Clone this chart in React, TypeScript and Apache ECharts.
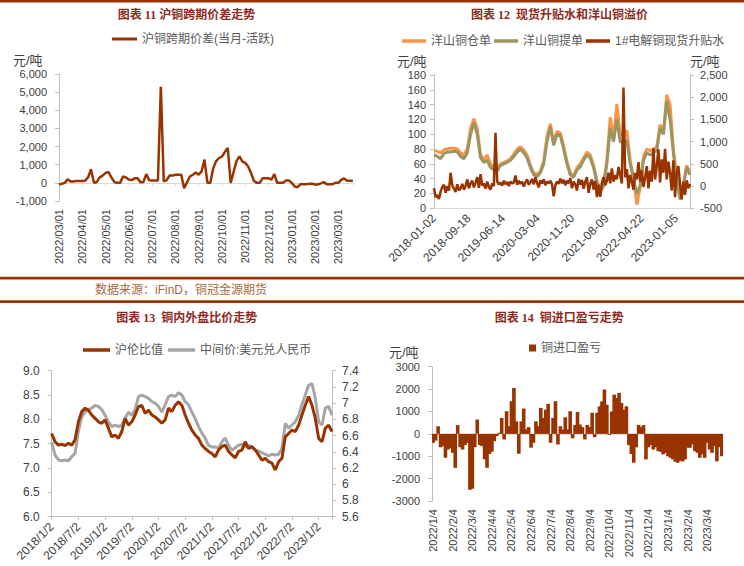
import React, { useEffect, useRef } from 'react';
import * as echarts from 'echarts';

// ---------- Panel 1: 沪铜跨期价差 ----------
const p1Labels = ['2022/03/01', '2022/04/01', '2022/05/01', '2022/06/01', '2022/07/01', '2022/08/01', '2022/09/01', '2022/10/01', '2022/11/01', '2022/12/01', '2023/01/01', '2023/02/01', '2023/03/01'];
const p1Spread = [
  -100, -50, 0, 200, 80, 80, 100, 100, 100, 120,
  300, 750, 0, 50, 300, 400, 550, 600, 300, 50,
  0, 0, 350, 300, 180, 150, 250, 250, 30, 50,
  480, 150, 130, 130, 130, 5300, 80, 150, 400, 400,
  450, 450, 450, -300, 30, 350, 450, 570, 450, 630,
  1280, 0, 0, 800, 1200, 1370, 1450, 1700, 1930, 0,
  600, 1200, 1460, 1180, 1100, 900, 540, 100, 0, 0,
  260, 250, 260, 170, 480, 0, 0, 0, 130, 130,
  0, -200, -240, -70, -70, -70, -50, -50, -90, -90,
  -30, 40, -70, -70, -70, 0, 0, 170, 250, 110,
  110, 110,
];

// ---------- Panel 2: 现货升贴水和洋山铜溢价 ----------
const p2Labels = ['2018-01-02', '2018-09-18', '2019-06-14', '2020-03-04', '2020-11-20', '2021-08-09', '2022-04-22', '2023-01-05'];
const p2Warrant = [
  78, 77, 75, 79, 80, 81, 81, 80, 75, 72,
  80, 108, 121, 108, 72, 66, 72, 60, 55, 53,
  60, 62, 64, 67, 73, 80, 83, 79, 72, 58,
  48, 46, 50, 64, 98, 114, 90, 104, 102, 84,
  63, 48, 44, 55, 60, 68, 76, 72, 58, 38,
  24, 33, 65, 123, 95, 141, 100, 100, 105, 65,
  42, 5, 28, 70, 80, 78, 80, 83, 113, 102,
  153, 140, 80, 42, 14, 32, 58, 48,
];
const p2Bill = [
  72, 70, 67, 74, 76, 76, 77, 76, 70, 67,
  75, 100, 116, 100, 68, 62, 65, 55, 52, 50,
  58, 60, 62, 65, 70, 76, 80, 75, 68, 55,
  45, 43, 48, 60, 90, 110, 85, 100, 98, 80,
  60, 45, 42, 52, 56, 65, 72, 68, 55, 35,
  22, 30, 60, 108, 90, 120, 90, 88, 92, 60,
  40, 20, 30, 65, 75, 72, 75, 78, 108, 100,
  145, 120, 75, 40, 12, 30, 55, 45,
];
const p2Premium = [
  -50, -250, -200, -290, -120, -20, 30, -150, 0, -100,
  300, 20, -60, -130, 40, -100, -50, 50, -80, 0,
  150, -50, 60, 120, -30, 80, 200, -40, 270, 10,
  60, -60, 100, -20, -80, 60, 0, 1200, 100, 40,
  80, 10, 120, 40, 90, 0, 100, 60, 80, 240,
  30, 120, 50, 100, -10, 80, 150, 30, 90, 160,
  40, 200, 70, -30, 130, 60, 150, 20, 100, 60,
  120, 40, -230, 20, 100, 50, 170, 60, 140, 20,
  120, 60, 180, -50, 100, 40, -100, 160, 30, 140,
  -60, 100, 200, -150, 50, 150, -80, 120, -250, 30,
  -240, 80, 200, 20, 120, 300, 60, 400, 100, 250,
  150, 430, 250, 60, 2220, 200, 380, -50, 250, 100,
  -80, 300, 150, 540, 100, 350, -20, 200, 450, -50,
  350, 100, 850, 150, 450, 830, 80, 600, 300, 840,
  150, 550, 300, -100, 580, -250, 300, 450, 50, -300,
  100, -200, 130, -50, 50,
];

// ---------- Panel 3: 铜内外盘比价 ----------
const p3Labels = ['2018/1/2', '2018/7/2', '2019/1/2', '2019/7/2', '2020/1/2', '2020/7/2', '2021/1/2', '2021/7/2', '2022/1/2', '2022/7/2', '2023/1/2'];
const p3Ratio = [
  7.71, 7.54, 7.47, 7.49, 7.46, 7.51, 7.47, 7.58, 7.95, 8.16,
  8.23, 8.19, 8.09, 8.02, 7.95, 7.92, 7.99, 7.82, 7.64, 7.68,
  7.61, 7.75, 8.02, 7.88, 7.95, 8.09, 8.26, 8.29, 8.12, 8.19,
  8.09, 8.05, 7.99, 7.92, 7.99, 8.23, 8.16, 8.29, 8.36, 8.29,
  8.09, 7.92, 7.78, 7.68, 7.61, 7.47, 7.40, 7.34, 7.30, 7.23,
  7.37, 7.44, 7.47, 7.34, 7.27, 7.21, 7.34, 7.37, 7.54, 7.40,
  7.44, 7.37, 7.27, 7.16, 7.20, 7.13, 7.10, 6.96, 7.13, 7.20,
  7.64, 7.71, 7.78, 7.75, 7.88, 8.09, 8.29, 8.47, 8.29, 8.02,
  7.61, 7.54, 7.82, 7.88, 7.75,
];
const p3Usd = [
  6.52, 6.36, 6.30, 6.29, 6.30, 6.29, 6.34, 6.38, 6.65, 6.83,
  6.89, 6.92, 6.94, 6.97, 6.96, 6.92, 6.85, 6.77, 6.71, 6.73,
  6.71, 6.73, 6.81, 6.89, 6.85, 6.92, 7.08, 7.10, 7.08, 7.06,
  7.02, 7.00, 6.96, 6.89, 6.98, 7.08, 7.10, 7.08, 7.13, 7.10,
  7.02, 6.98, 6.89, 6.81, 6.71, 6.63, 6.57, 6.48, 6.46, 6.46,
  6.45, 6.52, 6.57, 6.48, 6.42, 6.45, 6.48, 6.49, 6.46, 6.48,
  6.46, 6.42, 6.41, 6.39, 6.37, 6.35, 6.37, 6.36, 6.37, 6.44,
  6.75, 6.69, 6.73, 6.77, 6.85, 6.98, 7.10, 7.22, 7.24, 7.06,
  6.77, 6.73, 6.94, 6.96, 6.85,
];

// ---------- Panel 4: 铜进口盈亏 ----------
const p4Labels = ['2022/1/4', '2022/2/4', '2022/3/4', '2022/4/4', '2022/5/4', '2022/6/4', '2022/7/4', '2022/8/4', '2022/9/4', '2022/10/4', '2022/11/4', '2022/12/4', '2023/1/4', '2023/2/4', '2023/3/4'];
const p4Profit = [
  -400, -300, 340, -600, -550, -1070, -700, -650, -850, -1520,
  390, -600, -700, -500, -400, -2500, -2450, -600, 640, -500,
  -550, -1140, -1520, -900, -800, -330, -100, 50, 710, -250,
  1010, 340, 1460, 2050, 560, -890, 560, 1130, 200, 300,
  -620, -400, 560, 340, 1160, 710, 1080, 1340, -400, 710,
  1460, -475, 340, 190, 740, 200, 1010, -200, 400, 980,
  420, 300, -250, 400, 300, 940, -150, 940, 1230, 1450,
  1980, 1300, -50, 1000, 1750, 1600, 1830, 1380, 1080, 1230,
  -500, -900, -1290, -600, 400, 300, 390, -1140, -600, -500,
  -700, -600, -770, -800, -920, -850, -1000, -1070, -1140, -1250,
  -1290, -1200, -1230, -1140, -620, -620, -475, -770, -850, -1070,
  -920, -1070, -400, -700, -850, -550, -1230, -600, -1000,
];

// sampling steps (x units per sample)
const P1_STEP = 1 / 8; // months
const P2_STEP = 1332 / 77; // trading days
const P2P_STEP = 1332 / 154; // trading days (premium series, denser)
const P3_STEP = 0.75; // months
const P4_PER_MONTH = 8; // samples per month

const RED = '#993300';
const FONT = '"Liberation Sans", "Noto Sans CJK SC", sans-serif';
const TITLE_FONT = '"Liberation Serif", "Noto Sans CJK SC", serif';
const AXIS_GRAY = '#BFBFBF';
const LABEL = '#404040';

const tickFmt = (labels: string[], interval: number) => (v: number) => {
  const k = Math.round(v / interval);
  return Math.abs(v - k * interval) < 1e-6 && labels[k] ? labels[k] : '';
};
const thousands = (v: number) => Math.round(v).toLocaleString('en-US');

const title = (text: string, x: number, y: number) => ({
  type: 'text', x, y, silent: true,
  style: { text, fill: '#8E2A1E', font: `bold 12px ${TITLE_FONT}`, align: 'center', verticalAlign: 'middle' },
});
const unit = (x: number, y: number) => ({
  type: 'text', x, y, silent: true,
  style: { text: '元/吨', fill: LABEL, font: `13px ${FONT}`, align: 'left', verticalAlign: 'middle' },
});

const yAxisBase = (gridIndex: number, extra: any) => ({
  type: 'value', gridIndex,
  splitLine: { show: false },
  axisLine: { show: true, onZero: false, lineStyle: { color: AXIS_GRAY } },
  axisTick: { show: true, length: 4, lineStyle: { color: AXIS_GRAY } },
  ...extra,
  axisLabel: { color: LABEL, fontSize: 11, ...(extra.axisLabel || {}) },
});

export default function App() {
  const ref = useRef<HTMLDivElement>(null);
  useEffect(() => {
    if (!ref.current) return;
    const chart = echarts.init(ref.current, undefined, { renderer: 'svg' });
    const legendText = { fontSize: 12, color: '#595959' };
    const p4Categories = p4Profit.map((_, i) => String(i));
    const option: any = {
      animation: false,
      backgroundColor: '#ffffff',
      textStyle: { fontFamily: FONT },
      graphic: [
        { type: 'rect', shape: { x: 0, y: 0, width: 744, height: 2.5 }, style: { fill: RED }, silent: true },
        { type: 'rect', shape: { x: 0, y: 276.8, width: 744, height: 2.6 }, style: { fill: RED }, silent: true },
        { type: 'rect', shape: { x: 0, y: 300.3, width: 744, height: 2.8 }, style: { fill: RED }, silent: true },
        title('图表 11 沪铜跨期价差走势', 186.5, 15),
        title('图表 12  现货升贴水和洋山铜溢价', 559.5, 15),
        title('图表 13  铜内外盘比价走势', 186.7, 318),
        title('图表 14  铜进口盈亏走势', 559.3, 318),
        unit(13, 60),
        unit(397, 61),
        unit(690, 61),
        unit(389, 352),
        {
          type: 'text', x: 181, y: 290, silent: true,
          style: { text: '数据来源：iFinD，铜冠金源期货', fill: '#A86A3D', font: `12px ${FONT}`, align: 'center', verticalAlign: 'middle' },
        },
      ],
      legend: [
        { data: ['沪铜跨期价差(当月-活跃)'], left: 112, top: 33, padding: 0, icon: 'rect', itemWidth: 25, itemHeight: 3, selectedMode: false, textStyle: legendText },
        { data: ['洋山铜仓单', '洋山铜提单', '1#电解铜现货升贴水'], left: 402, top: 35, padding: 0, icon: 'rect', itemWidth: 24, itemHeight: 3.5, itemGap: 3, selectedMode: false, textStyle: legendText },
        { data: ['沪伦比值', '中间价:美元兑人民币'], left: 83, top: 344, padding: 0, icon: 'rect', itemWidth: 27, itemHeight: 3.5, itemGap: 5, selectedMode: false, textStyle: legendText },
        { data: ['铜进口盈亏'], left: 529, top: 342, padding: 0, icon: 'rect', itemWidth: 7, itemHeight: 7, selectedMode: false, textStyle: legendText },
      ],
      grid: [
        { left: 59, top: 74, width: 294, height: 127, outerBoundsMode: 'none' },
        { left: 434, top: 75, width: 256, height: 133.3, outerBoundsMode: 'none' },
        { left: 51.7, top: 370.7, width: 280.3, height: 146, outerBoundsMode: 'none' },
        { left: 432, top: 366.7, width: 291, height: 134.3, outerBoundsMode: 'none' },
      ],
      xAxis: [
        {
          type: 'value', gridIndex: 0, position: 'bottom', min: 0, max: 12.63, interval: 1,
          axisLine: { show: false, onZero: false }, axisTick: { show: false }, splitLine: { show: false },
          axisLabel: { rotate: 90, fontSize: 11, color: LABEL, margin: 8, formatter: tickFmt(p1Labels, 1) },
        },
        {
          type: 'value', gridIndex: 0, position: 'bottom', min: 0, max: 12.63, interval: 1,
          axisLine: { show: true, onZero: true, lineStyle: { color: '#D9D9D9' } },
          axisTick: { show: true, length: 3, lineStyle: { color: '#D9D9D9' } },
          axisLabel: { show: false }, splitLine: { show: false },
        },
        {
          type: 'value', gridIndex: 1, position: 'bottom', min: 0, max: 1332, interval: 180,
          axisLine: { show: true, onZero: false, lineStyle: { color: '#D9D9D9' } },
          axisTick: { show: false }, splitLine: { show: false },
          axisLabel: { rotate: 45, fontSize: 12, color: LABEL, margin: 8, formatter: tickFmt(p2Labels, 180) },
        },
        {
          type: 'value', gridIndex: 2, position: 'bottom', min: 0, max: 63, interval: 6,
          axisLine: { show: true, onZero: false, lineStyle: { color: AXIS_GRAY } },
          axisTick: { show: true, length: 3, lineStyle: { color: AXIS_GRAY } }, splitLine: { show: false },
          axisLabel: { rotate: 45, fontSize: 12, color: LABEL, margin: 8, formatter: tickFmt(p3Labels, 6) },
        },
        {
          type: 'category', gridIndex: 3, position: 'bottom', data: p4Categories, boundaryGap: true,
          axisLine: { show: false, onZero: false }, axisTick: { show: false }, splitLine: { show: false },
          axisLabel: {
            rotate: 90, fontSize: 11, color: LABEL, margin: 8, interval: 0,
            formatter: (_: string, idx: number) => (idx % P4_PER_MONTH === 0 ? p4Labels[idx / P4_PER_MONTH] || '' : ''),
          },
        },
        {
          type: 'value', gridIndex: 3, position: 'bottom', min: 0, max: 1,
          axisLine: { show: true, onZero: true, lineStyle: { color: '#D9D9D9' } },
          axisTick: { show: false }, axisLabel: { show: false }, splitLine: { show: false },
        },
      ],
      yAxis: [
        yAxisBase(0, { min: -1000, max: 6000, interval: 1000, axisLabel: { margin: 12, formatter: thousands } }),
        yAxisBase(1, { position: 'left', min: 0, max: 180, interval: 20, axisLabel: { margin: 8 } }),
        yAxisBase(1, { position: 'right', min: -500, max: 2500, interval: 500, axisLabel: { margin: 10, formatter: thousands } }),
        yAxisBase(2, { position: 'left', min: 6, max: 9, interval: 0.5, axisLabel: { margin: 12, fontSize: 12, formatter: (v: number) => v.toFixed(1) } }),
        yAxisBase(2, { position: 'right', min: 5.6, max: 7.4, interval: 0.2, axisLabel: { margin: 10, fontSize: 12, formatter: (v: number) => String(Math.round(v * 10) / 10) } }),
        yAxisBase(3, { min: -3000, max: 3000, interval: 1000, axisLabel: { margin: 12, formatter: (v: number) => String(Math.round(v)) } }),
      ],
      series: [
        {
          name: '沪铜跨期价差(当月-活跃)', type: 'line', xAxisIndex: 0, yAxisIndex: 0, symbol: 'none',
          data: p1Spread.map((v, i) => [i * P1_STEP, v]),
          lineStyle: { width: 2.5, color: RED }, itemStyle: { color: RED },
        },
        {
          name: '洋山铜仓单', type: 'line', xAxisIndex: 2, yAxisIndex: 1, symbol: 'none',
          data: p2Warrant.map((v, i) => [i * P2_STEP, v]),
          lineStyle: { width: 3, color: '#F79646' }, itemStyle: { color: '#F79646' },
        },
        {
          name: '洋山铜提单', type: 'line', xAxisIndex: 2, yAxisIndex: 1, symbol: 'none',
          data: p2Bill.map((v, i) => [i * P2_STEP, v]),
          lineStyle: { width: 3, color: '#9C9461' }, itemStyle: { color: '#9C9461' },
        },
        {
          name: '1#电解铜现货升贴水', type: 'line', xAxisIndex: 2, yAxisIndex: 2, symbol: 'none',
          data: p2Premium.map((v, i) => [i * P2P_STEP, v]),
          lineStyle: { width: 2.5, color: RED }, itemStyle: { color: RED },
        },
        {
          name: '中间价:美元兑人民币', type: 'line', xAxisIndex: 3, yAxisIndex: 4, symbol: 'none',
          data: p3Usd.map((v, i) => [i * P3_STEP, v]),
          lineStyle: { width: 3, color: '#A6A6A6' }, itemStyle: { color: '#A6A6A6' },
        },
        {
          name: '沪伦比值', type: 'line', xAxisIndex: 3, yAxisIndex: 3, symbol: 'none',
          data: p3Ratio.map((v, i) => [i * P3_STEP, v]),
          lineStyle: { width: 3, color: RED }, itemStyle: { color: RED },
        },
        {
          name: '铜进口盈亏', type: 'bar', xAxisIndex: 4, yAxisIndex: 5,
          barWidth: 3.6,
          data: p4Profit,
          itemStyle: { color: RED },
        },
      ],
    };
    chart.setOption(option);
    return () => chart.dispose();
  }, []);
  return <div ref={ref} style={{ position: 'fixed', left: 0, top: 0, width: 744, height: 566, background: '#fff' }} />;
}
